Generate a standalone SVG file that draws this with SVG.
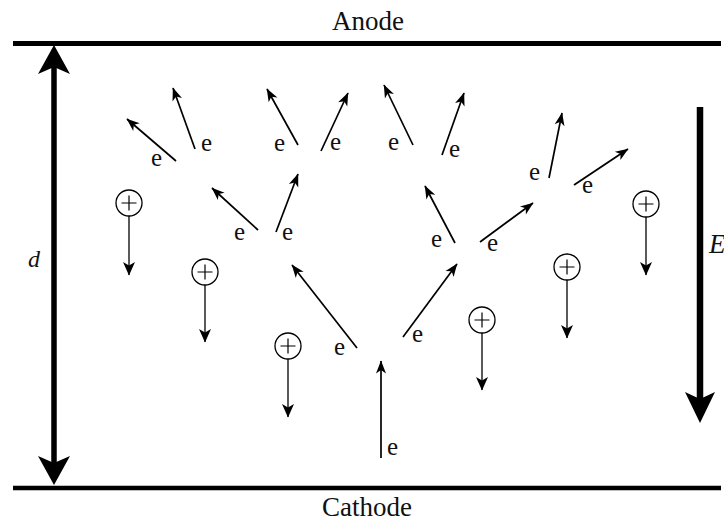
<svg xmlns="http://www.w3.org/2000/svg" width="724" height="525" viewBox="0 0 724 525">
<style>
.lbl{font-family:"Liberation Serif","Times New Roman",serif;font-size:27px;fill:#111}
.e{font-family:"Liberation Serif","Times New Roman",serif;font-size:25px;fill:#111}
.it{font-family:"Liberation Serif","Times New Roman",serif;font-style:italic;fill:#111}
.el{stroke:#000;stroke-width:1.7;fill:none;marker-end:url(#ah)}
.ion circle{fill:#fff;stroke:#000;stroke-width:1.3}
.ion .p{stroke:#000;stroke-width:1.2;fill:none}
.ion .l{stroke:#000;stroke-width:1.3;fill:none;marker-end:url(#ih)}
</style>
<defs>
<marker id="ah" viewBox="-14 -6 15 12" refX="0" refY="0" markerWidth="15" markerHeight="12" markerUnits="userSpaceOnUse" orient="auto">
<path d="M0.5,0 L-12.5,-5 L-9,0 L-12.5,5 Z" fill="#000"/>
</marker>
<marker id="ih" viewBox="-14 -7 15 14" refX="0" refY="0" markerWidth="15" markerHeight="14" markerUnits="userSpaceOnUse" orient="auto">
<path d="M0.5,0 L-13,-6 L-9.5,0 L-13,6 Z" fill="#000"/>
</marker>
</defs>
<rect width="724" height="525" fill="#fff"/>

<g id="anode">
<line x1="13" y1="43.5" x2="721" y2="43.5" stroke="#000" stroke-width="5"/>
<text class="lbl" x="368" y="30" text-anchor="middle">Anode</text>
</g>
<g id="cathode">
<line x1="13" y1="488" x2="721" y2="488" stroke="#000" stroke-width="4.5"/>
<text class="lbl" x="367" y="516" text-anchor="middle">Cathode</text>
</g>

<g id="distance-d">
<line x1="54" y1="66" x2="54" y2="465" stroke="#000" stroke-width="5.5"/>
<path d="M54,45 L38,74 L54,67 L70,74 Z" fill="#000"/>
<path d="M54,485 L38,456 L54,463 L70,456 Z" fill="#000"/>
<text class="it" x="28" y="267" font-size="24">d</text>
</g>

<g id="field-E">
<line x1="700" y1="107" x2="700" y2="402" stroke="#000" stroke-width="6.5"/>
<path d="M700,423 L685,392 L700,399 L715,392 Z" fill="#000"/>
<text class="it" x="709" y="253" font-size="27">E</text>
</g>

<g id="ions">
<g id="ion1" class="ion"><circle cx="129" cy="203" r="13"/><path class="p" d="M121.5,203H136.5M129,195.5V210.5"/><line class="l" x1="129" y1="216" x2="129" y2="275"/></g>
<g id="ion2" class="ion"><circle cx="205" cy="272" r="13"/><path class="p" d="M197.5,272H212.5M205,264.5V279.5"/><line class="l" x1="205" y1="285" x2="205" y2="342"/></g>
<g id="ion3" class="ion"><circle cx="288" cy="346" r="13"/><path class="p" d="M280.5,346H295.5M288,338.5V353.5"/><line class="l" x1="288" y1="359" x2="288" y2="417"/></g>
<g id="ion4" class="ion"><circle cx="482" cy="320" r="13"/><path class="p" d="M474.5,320H489.5M482,312.5V327.5"/><line class="l" x1="482" y1="333" x2="482" y2="390"/></g>
<g id="ion5" class="ion"><circle cx="567" cy="267" r="13"/><path class="p" d="M559.5,267H574.5M567,259.5V274.5"/><line class="l" x1="567" y1="280" x2="567" y2="338"/></g>
<g id="ion6" class="ion"><circle cx="646" cy="204" r="13"/><path class="p" d="M638.5,204H653.5M646,196.5V211.5"/><line class="l" x1="646" y1="217" x2="646" y2="275"/></g>
</g>

<g id="electron-labels">
<text class="e" x="151" y="166">e</text>
<text class="e" x="201" y="151">e</text>
<text class="e" x="234" y="240">e</text>
<text class="e" x="282" y="240">e</text>
<text class="e" x="274" y="151">e</text>
<text class="e" x="330" y="150">e</text>
<text class="e" x="388" y="150">e</text>
<text class="e" x="449" y="157">e</text>
<text class="e" x="431" y="247">e</text>
<text class="e" x="487" y="251">e</text>
<text class="e" x="529" y="180">e</text>
<text class="e" x="582" y="193">e</text>
<text class="e" x="334" y="355">e</text>
<text class="e" x="412" y="342">e</text>
<text class="e" x="387" y="455">e</text>
</g>

<g id="connectors">
<line class="el" x1="176" y1="161" x2="127" y2="119"/>
<line class="el" x1="195" y1="149" x2="173" y2="88"/>
<line class="el" x1="258" y1="230" x2="212" y2="188"/>
<line class="el" x1="276" y1="232" x2="298" y2="174"/>
<line class="el" x1="298" y1="145" x2="267" y2="89"/>
<line class="el" x1="321" y1="151" x2="348" y2="93"/>
<line class="el" x1="413" y1="145" x2="384" y2="85"/>
<line class="el" x1="442" y1="155" x2="464" y2="93"/>
<line class="el" x1="455" y1="243" x2="425" y2="186"/>
<line class="el" x1="480" y1="242" x2="533" y2="203"/>
<line class="el" x1="549" y1="178" x2="562" y2="113"/>
<line class="el" x1="574" y1="185" x2="628" y2="149"/>
<line class="el" x1="357" y1="348" x2="292" y2="265"/>
<line class="el" x1="403" y1="337" x2="457" y2="264"/>
<line class="el" x1="381" y1="458" x2="381" y2="361"/>
</g>
</svg>
